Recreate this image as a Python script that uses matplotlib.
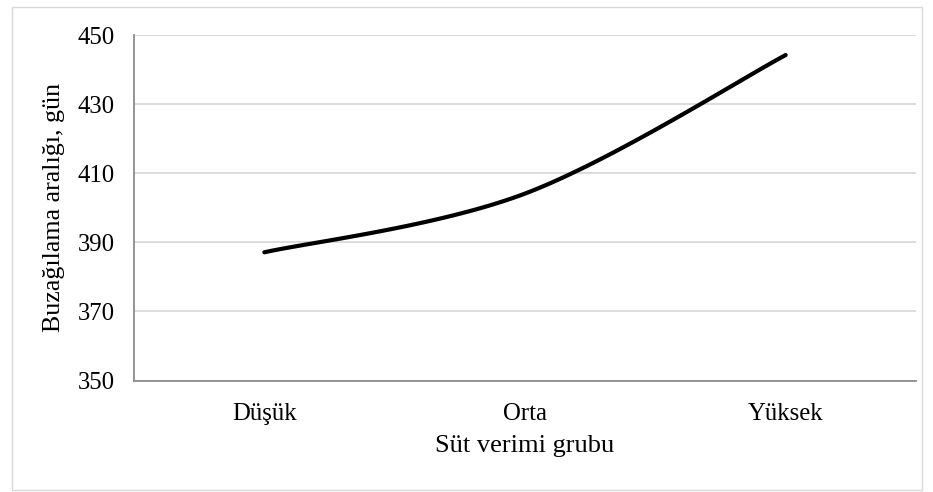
import numpy as np
import matplotlib
matplotlib.use("Agg")
import matplotlib.pyplot as plt
from matplotlib.patches import Rectangle

categories = ["Düşük", "Orta", "Yüksek"]
values = [387.1, 404.1, 444.2]
yticks = [350, 370, 390, 410, 430, 450]

plt.rcParams['font.family'] = ['Liberation Serif', 'DejaVu Serif']

def excel_smooth(x, y, n=60):
    x = np.asarray(x, float); y = np.asarray(y, float)
    px = np.concatenate([[x[0]], x, [x[-1]]])
    py = np.concatenate([[y[0]], y, [y[-1]]])
    xs, ys = [], []
    t = np.linspace(0, 1, n)
    for i in range(1, len(px) - 2):
        p0 = np.array([px[i], py[i]]); p3 = np.array([px[i+1], py[i+1]])
        c1 = p0 + (np.array([px[i+1], py[i+1]]) - np.array([px[i-1], py[i-1]])) / 6
        c2 = p3 - (np.array([px[i+2], py[i+2]]) - np.array([px[i], py[i]])) / 6
        b = ((1-t)**3)[:, None]*p0 + (3*(1-t)**2*t)[:, None]*c1 + (3*(1-t)*t**2)[:, None]*c2 + (t**3)[:, None]*p3
        xs.append(b[:, 0]); ys.append(b[:, 1])
    return np.concatenate(xs), np.concatenate(ys)

W, H = 933, 492
fig = plt.figure(figsize=(W/100, H/100), dpi=100)
fig.patches.append(Rectangle((12/W, 1-490/H), (922-12)/W, (490-7)/H,
                             transform=fig.transFigure, fill=False,
                             edgecolor='#d9d9d9', linewidth=1))
ax = fig.add_axes([134/W, 1-380.5/H, (916-134)/W, (380.5-35)/H])

xpos = np.arange(len(categories))
sx, sy = excel_smooth(xpos, values)
ax.plot(sx, sy, color='black', linewidth=3.0, solid_capstyle='round')

ax.set_xlim(-0.5, 2.5)
ax.set_ylim(350, 450)
ax.set_yticks(yticks)
ax.set_xticks(xpos)
ax.set_xticklabels(categories)
ax.tick_params(length=0, labelsize=17.8)
ax.tick_params(axis='x', pad=16)
ax.tick_params(axis='y', pad=14)
ax.grid(axis='y', color='#d9d9d9', linewidth=1.3)
ax.set_axisbelow(True)
for s in ['top', 'right']:
    ax.spines[s].set_visible(False)
for s in ['left', 'bottom']:
    ax.spines[s].set_color('#8c8c8c')
    ax.spines[s].set_linewidth(1.3)

fig.text(525/W, 1-452.3/H, "Süt verimi grubu", fontsize=19, ha='center', va='baseline')
fig.text(53.6/W, 1-207.5/H, "Buzağılama aralığı, gün", fontsize=18.7,
         ha='center', va='center', rotation=90)

fig.savefig("out.png", dpi=100)
